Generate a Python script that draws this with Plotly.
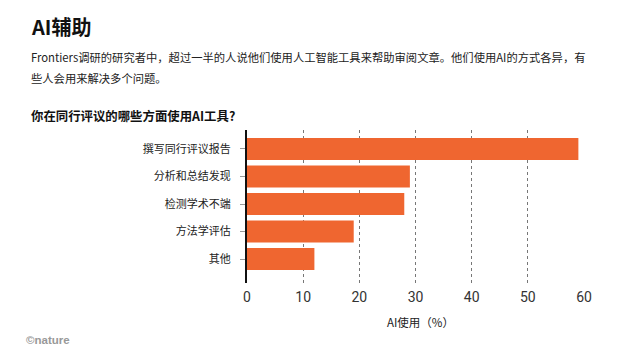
import plotly.graph_objects as go

categories = ["撰写同行评议报告", "分析和总结发现", "检测学术不端", "方法学评估", "其他"]
values = [59, 29, 28, 19, 12]
x_ticks = [0, 10, 20, 30, 40, 50, 60]

OFF = 8  # page body margin
W, H = 633 - OFF, 359 - OFF
L, R, T, B = 247 - OFF, 584 - OFF, 130 - OFF, 283 - OFF

def px(x):
    return (x - OFF - L) / (R - L)

def py(y):
    return (B - (y - OFF)) / (B - T)

font = "Noto Sans CJK SC, Noto Sans, sans-serif"

fig = go.Figure(go.Bar(
    x=values, y=categories, orientation="h",
    marker=dict(color="#EF6630", line=dict(width=0)),
    width=0.8, hoverinfo="skip",
))

fig.update_layout(
    width=W, height=H,
    margin=dict(l=L, r=W - R, t=T, b=H - B, pad=0),
    paper_bgcolor="white", plot_bgcolor="white",
    showlegend=False,
    font=dict(family=font, color="#222"),
    xaxis=dict(
        range=[0, 60], tickvals=x_ticks, showgrid=True, gridcolor="#777",
        griddash="dot", gridwidth=1, zeroline=False, showline=False,
        ticks="", tickfont=dict(size=14, color="#333", family="Roboto, Noto Sans, sans-serif"),
        ticklabelstandoff=4,
        fixedrange=True,
    ),
    yaxis=dict(
        categoryorder="array", categoryarray=categories,
        range=[4.87, -0.69], showline=True, linecolor="#111", linewidth=2,
        ticks="outside", ticklen=5, tickcolor="#999", tickwidth=1,
        ticklabelstandoff=7,
        tickfont=dict(size=11, color="#222"), showgrid=False, zeroline=False,
        fixedrange=True,
    ),
    annotations=[
        dict(text="<b>AI辅助</b>", x=px(29), y=py(27), xref="paper", yref="paper",
             xanchor="left", yanchor="middle", showarrow=False,
             font=dict(size=20, color="#111")),
        dict(text="Frontiers调研的研究者中，超过一半的人说他们使用人工智能工具来帮助审阅文章。他们使用AI的方式各异，有",
             x=px(29), y=py(57), xref="paper", yref="paper",
             xanchor="left", yanchor="middle", showarrow=False,
             font=dict(size=11.3, color="#222")),
        dict(text="些人会用来解决多个问题。",
             x=px(29), y=py(78), xref="paper", yref="paper",
             xanchor="left", yanchor="middle", showarrow=False,
             font=dict(size=11.3, color="#222")),
        dict(text="<b>你在同行评议的哪些方面使用AI工具?</b>",
             x=px(29), y=py(116), xref="paper", yref="paper",
             xanchor="left", yanchor="middle", showarrow=False,
             font=dict(size=12.4, color="#111")),
        dict(text="AI使用（%）",
             x=px(420), y=py(322), xref="paper", yref="paper",
             xanchor="center", yanchor="middle", showarrow=False,
             font=dict(size=11.5, color="#222")),
        dict(text="<b>©nature</b>",
             x=px(24), y=py(340), xref="paper", yref="paper",
             xanchor="left", yanchor="middle", showarrow=False,
             font=dict(size=11.5, color="#999", family="Liberation Sans Narrow, Liberation Sans, sans-serif")),
    ],
)

fig.write_html("out.html")
